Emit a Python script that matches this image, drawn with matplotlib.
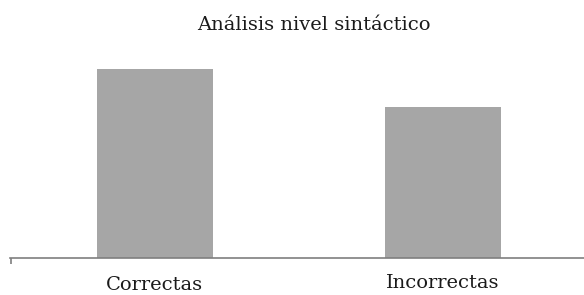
import matplotlib.pyplot as plt
import matplotlib.transforms as mtransforms

# data
categorias = ["Correctas", "Incorrectas"]
valores = [100, 80]

plt.rcParams['font.family'] = ['DejaVu Serif']

fig = plt.figure(figsize=(5.84, 2.95), dpi=100)
ax = fig.add_axes([10 / 584, 37 / 295, 574 / 584, 189 / 295])

x = range(len(categorias))
ax.bar(x, valores, width=0.403, color="#a6a6a6")

ax.set_xlim(-0.503, 1.49)
ax.set_ylim(0, 100)

for s in ["top", "right", "left"]:
    ax.spines[s].set_visible(False)
ax.spines["bottom"].set_color("#7f7f7f")
ax.spines["bottom"].set_linewidth(1.2)

ax.set_yticks([])
ax.set_xticks(list(x))
ax.set_xticklabels(categorias, fontsize=14, va="baseline", color="#1a1a1a")
ax.tick_params(axis="x", length=0, pad=23)
# small tick at left end of the axis
ax.set_xticks([-0.5], minor=True)
ax.tick_params(axis="x", which="minor", length=4, color="#7f7f7f", width=1.2)

# second label sits a little higher
lbl = ax.get_xticklabels()[1]
lbl.set_transform(lbl.get_transform() + mtransforms.ScaledTranslation(0, 2 / 100, fig.dpi_scale_trans))

fig.text(314 / 584, 1 - 30 / 295, "Análisis nivel sintáctico", fontsize=14, ha="center", va="baseline",
         color="#1a1a1a")

fig.savefig("out.png", dpi=100)
